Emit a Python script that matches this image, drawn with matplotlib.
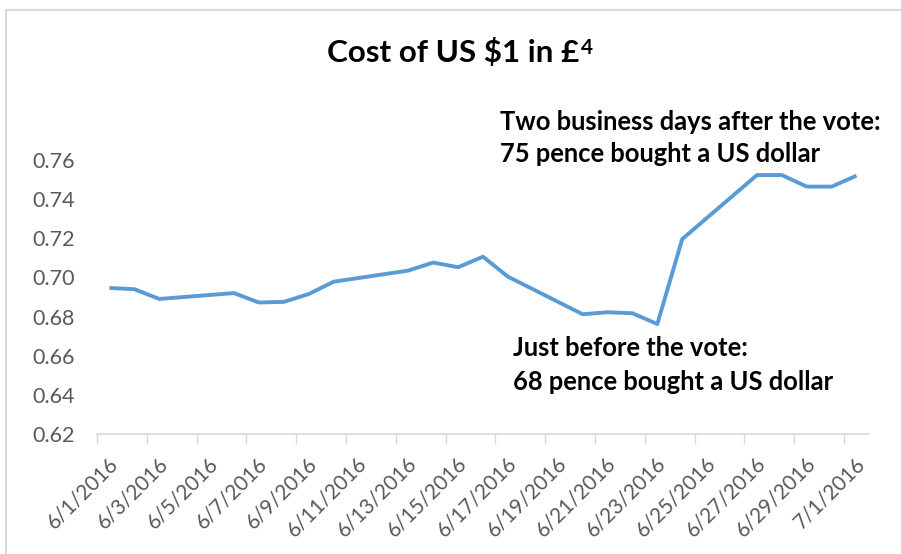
import matplotlib
matplotlib.use("Agg")
import matplotlib.pyplot as plt
from matplotlib.patches import Rectangle
import matplotlib.dates as mdates
from datetime import datetime, timedelta

# ---- data ----
dates = ["2016-06-01", "2016-06-02", "2016-06-03", "2016-06-06", "2016-06-07",
         "2016-06-08", "2016-06-09", "2016-06-10", "2016-06-13", "2016-06-14",
         "2016-06-15", "2016-06-16", "2016-06-17", "2016-06-20", "2016-06-21",
         "2016-06-22", "2016-06-23", "2016-06-24", "2016-06-27", "2016-06-28",
         "2016-06-29", "2016-06-30", "2016-07-01"]
gbp_per_usd = [0.6946, 0.6940, 0.6890, 0.6920, 0.6872,
               0.6875, 0.6915, 0.6978, 0.7035, 0.7076,
               0.7052, 0.7106, 0.7004, 0.6812, 0.6822,
               0.6817, 0.6762, 0.7196, 0.7523, 0.7523,
               0.7464, 0.7464, 0.7520]
tick_dates = ["2016-06-01", "2016-06-03", "2016-06-05", "2016-06-07", "2016-06-09",
              "2016-06-11", "2016-06-13", "2016-06-15", "2016-06-17", "2016-06-19",
              "2016-06-21", "2016-06-23", "2016-06-25", "2016-06-27", "2016-06-29",
              "2016-07-01"]
tick_labels = ["6/1/2016", "6/3/2016", "6/5/2016", "6/7/2016", "6/9/2016",
               "6/11/2016", "6/13/2016", "6/15/2016", "6/17/2016", "6/19/2016",
               "6/21/2016", "6/23/2016", "6/25/2016", "6/27/2016", "6/29/2016",
               "7/1/2016"]
y_ticks = [0.62, 0.64, 0.66, 0.68, 0.70, 0.72, 0.74, 0.76]
y_labels = ["0.62", "0.64", "0.66", "0.68", "0.70", "0.72", "0.74", "0.76"]
title = "Cost of US $1 in £"
title_sup = "4"
note_after = ["Two business days after the vote:", "75 pence bought a US dollar"]
note_before = ["Just before the vote:", "68 pence bought a US dollar"]

FONT = ["Lato", "DejaVu Sans"]
plt.rcParams["font.family"] = FONT

W, H = 901, 554
fig = plt.figure(figsize=(W / 100, H / 100), dpi=100)
fig.patch.set_facecolor("white")


def fx(px):
    return px / W


def fy(py):
    return 1 - py / H


# chart border (right and bottom edges fall outside the picture)
fig.add_artist(Rectangle((fx(6), -0.2), 1.2, 0.2 + fy(10), transform=fig.transFigure,
                         fill=False, edgecolor="#D9D9D9", lw=1.5))

ax = fig.add_axes([fx(97), fy(434), fx(869) - fx(97), (434 - 160) / H])

half = timedelta(hours=12)
xd = [mdates.date2num(datetime.strptime(d, "%Y-%m-%d") + half) for d in dates]
ax.plot(xd, gbp_per_usd, color="#5B9BD5", lw=2.8, solid_joinstyle="round",
        solid_capstyle="butt")

x0 = mdates.date2num(datetime(2016, 6, 1))
x1 = mdates.date2num(datetime(2016, 7, 2))
ax.set_xlim(x0, x1)
ax.set_ylim(0.62, 0.76)

# major ticks at date boundaries (no labels); minor ticks carry the labels
tk = [mdates.date2num(datetime.strptime(d, "%Y-%m-%d")) for d in tick_dates]
ax.set_xticks(tk)
ax.set_xticklabels([])
ax.set_xticks([t + 0.72 for t in tk], minor=True)
ax.set_xticklabels(tick_labels, minor=True, rotation=45, ha="right",
                   va="center", rotation_mode="anchor", fontsize=15,
                   color="#595959")
ax.tick_params(axis="x", which="major", length=7, width=1, color="#D9D9D9",
               direction="out")
ax.tick_params(axis="x", which="minor", length=0, pad=19)

ax.set_yticks(y_ticks)
ax.set_yticklabels(y_labels, fontsize=15.5, color="#595959")
ax.tick_params(axis="y", length=0, pad=15.8)

for s in ["top", "right", "left"]:
    ax.spines[s].set_visible(False)
ax.spines["bottom"].set_color("#D9D9D9")
ax.spines["bottom"].set_linewidth(1.2)
ax.patch.set_alpha(0)

# title with superscript
t_main = fig.text(fx(327), fy(62), title, fontsize=22.6, fontweight="bold",
                  color="black", ha="left", va="baseline")
fig.canvas.draw()
bb = t_main.get_window_extent(renderer=fig.canvas.get_renderer())
fig.text(bb.x1 / W + fx(2), fy(54), title_sup, fontsize=15, fontweight="bold",
         color="black", ha="left", va="baseline")

# annotations
for line, base in zip(note_after, [130, 162]):
    fig.text(fx(500), fy(base), line, fontsize=18.4, fontweight="bold",
             color="black", ha="left", va="baseline")
for line, base in zip(note_before, [356, 390]):
    fig.text(fx(513), fy(base), line, fontsize=18.4, fontweight="bold",
             color="black", ha="left", va="baseline")

fig.savefig("out.png", dpi=100, facecolor="white")
